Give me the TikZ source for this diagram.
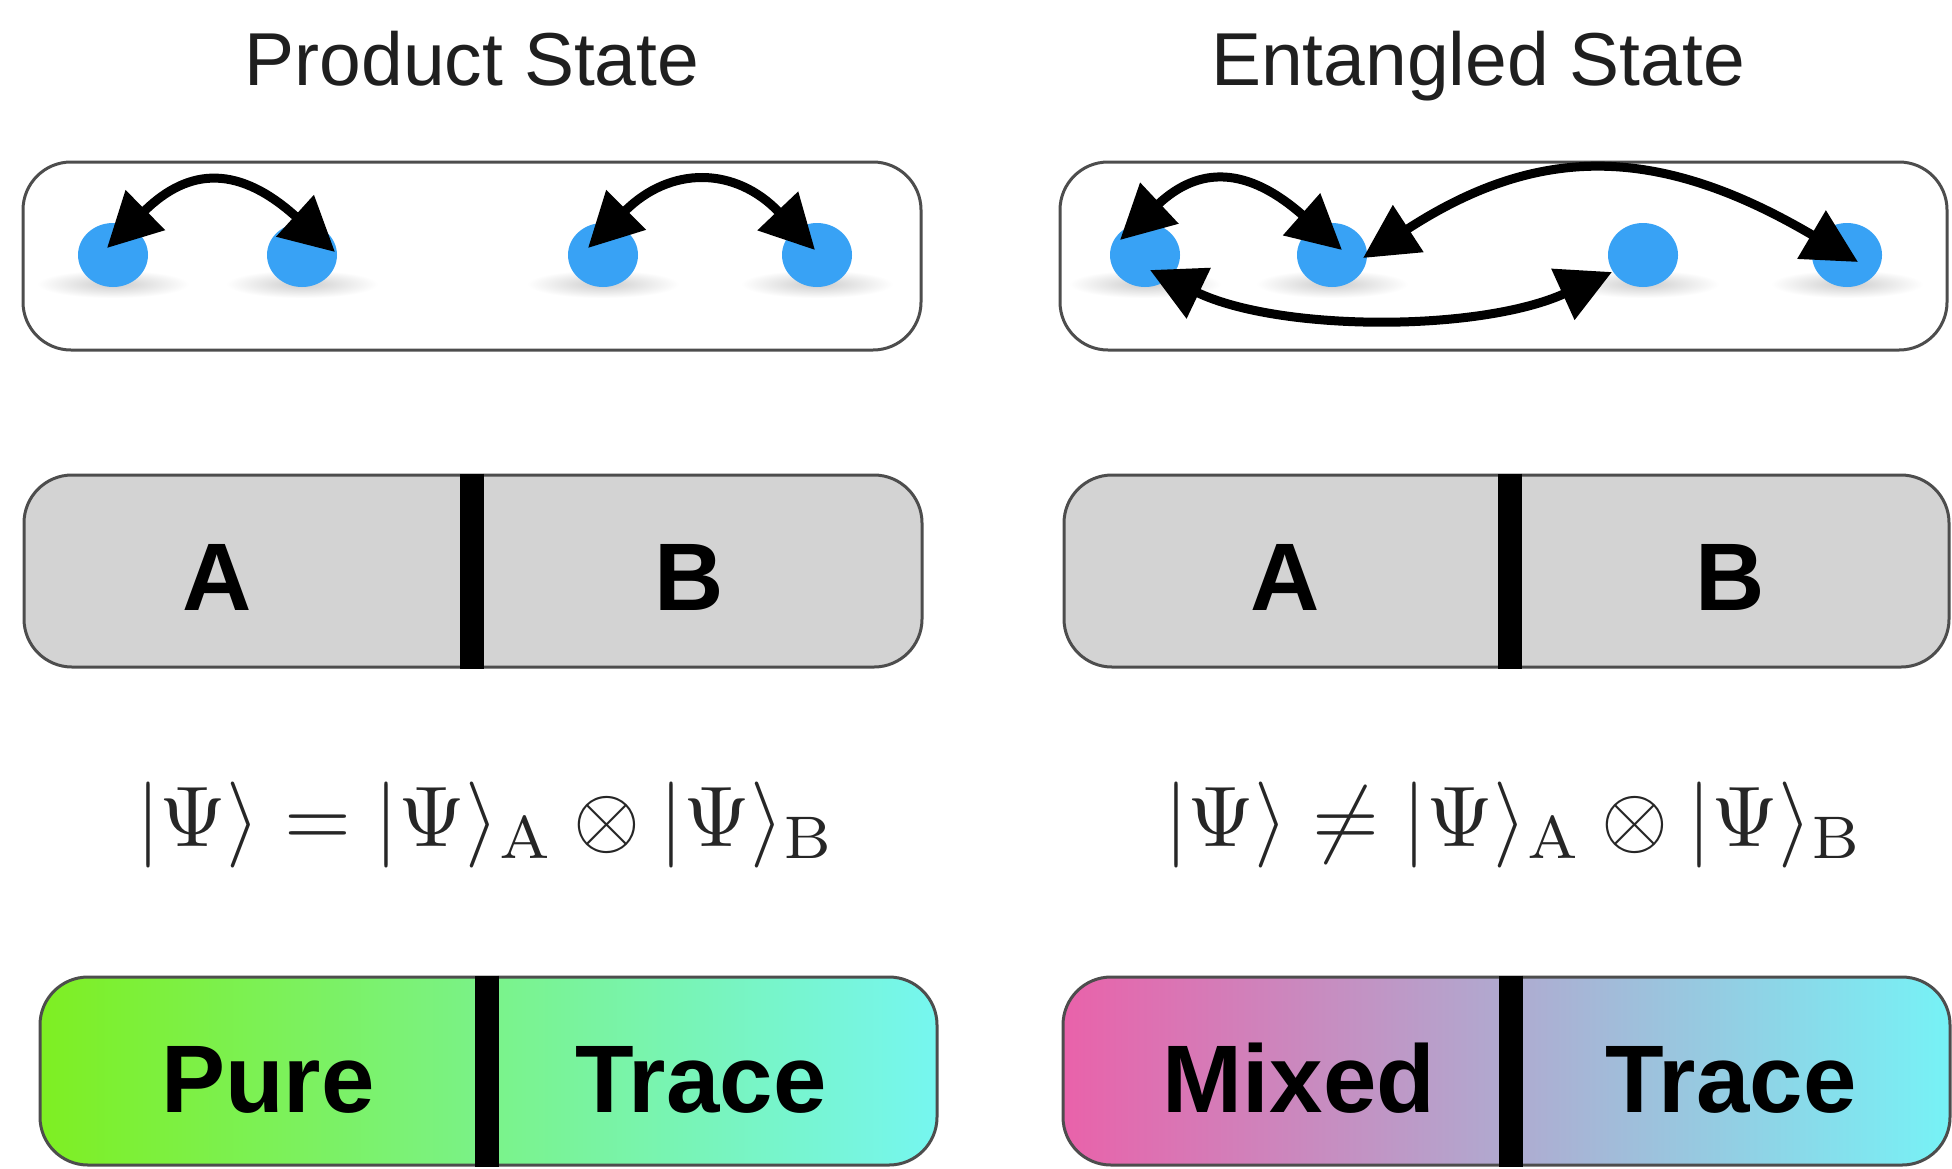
\documentclass[tikz,border=0pt]{standalone}
\usepackage[no-math]{fontspec}
\usepackage{graphicx}
\newfontfamily\sansf{Liberation Sans}
\usetikzlibrary{arrows.meta,calc,shapes.geometric}
\definecolor{dotblue}{HTML}{38A2F5}
\definecolor{boxline}{HTML}{4D4D4D}
\definecolor{boxgray}{HTML}{D3D3D3}
\definecolor{gA}{HTML}{7EEF22}
\definecolor{gB}{HTML}{76F6F0}
\definecolor{mA}{HTML}{E962AA}
\definecolor{mB}{HTML}{76F2F6}
\begin{document}
\begin{tikzpicture}[x=0.5pt,y=-0.5pt,
  box/.style={draw=boxline, line width=1.5pt, rounded corners=24pt, rectangle, inner sep=0pt},
  dot/.style={ellipse, fill=dotblue, minimum width=35pt, minimum height=32pt, inner sep=0pt},
  arr/.style={line width=4.5pt, {Triangle[length=27pt,width=27pt]}-{Triangle[length=27pt,width=27pt]}},
  divider/.style={line width=12pt},
  title/.style={font=\sansf\fontsize{37.5}{40}\selectfont, text=black!88, anchor=base},
  lbl/.style={font=\sansf\fontsize{48}{50}\selectfont\bfseries, anchor=base},
  formula/.style={text=black!85, anchor=base, inner sep=0pt},
]
\path[use as bounding box] (0,0) rectangle (1952,1168);

% titles
\node[title] (t1) at (472,85) {Product State};
\node[title] (t2) at (1478,85) {Entangled State};

% row 1 boxes
\node[box, fill=white, minimum width=449pt, minimum height=94pt] (p1) at (472,256) {};
\node[box, fill=white, minimum width=443.5pt, minimum height=94pt] (e1) at (1503.5,256) {};

% shadows
\foreach \x in {113,302,603,817,1145,1332,1643,1847}
  \shade[inner color=black!20, outer color=white] (\x,284) ellipse [x radius=38pt, y radius=7pt];

% dots
\node[dot] (d1) at (113,255) {};
\node[dot] (d2) at (302,255) {};
\node[dot] (d3) at (603,255) {};
\node[dot] (d4) at (817,255) {};
\node[dot] (f1) at (1145,255) {};
\node[dot] (f2) at (1332,255) {};
\node[dot] (f3) at (1643,255) {};
\node[dot] (f4) at (1847,255) {};

% arrows product
\draw[arr] ([shift={(-6,-7)}]d1.center) .. controls (190,166) and (240,166) .. ([shift={(33,-3)}]d2.center);
\draw[arr] ([shift={(-15,-7)}]d3.center) .. controls (670,166) and (735,166) .. ([shift={(-2,-5)}]d4.center);
% arrows entangled
\draw[arr] ([shift={(-25,-15)}]f1.center) .. controls (1199,166) and (1247,166) .. ([shift={(10,-5)}]f2.center);
\draw[arr] ([shift={(31,3)}]f2.center) .. controls (1538,144) and (1658,144) .. ([shift={(11,7)}]f4.center);
\draw[arr] ([shift={(5,15)}]f1.center) .. controls (1280,332) and (1480,332) .. ([shift={(-31,17)}]f3.center);

% row 2
\node[box, fill=boxgray, minimum width=449pt, minimum height=96pt] (pab) at (473,571) {};
\draw[divider] ([xshift=-0.5pt]pab.north) -- ([xshift=-0.5pt]pab.south);
\node[box, fill=boxgray, minimum width=442.5pt, minimum height=96pt] (eab) at (1506.5,571) {};
\draw[divider] ([xshift=1.75pt]eab.north) -- ([xshift=1.75pt]eab.south);
\node[lbl] (la1) at (217,610) {A};
\node[lbl] (lb1) at (689,610) {B};
\node[lbl] (la2) at (1285,610) {A};
\node[lbl] (lb2) at (1730,610) {B};

% row 3 formulas
\node[formula] (fm1) at (486,846) {\scalebox{4.3}{$|\Psi\rangle = |\Psi\rangle_{\mathrm{A}} \otimes |\Psi\rangle_{\mathrm{B}}$}};
\node[formula] (fm2) at (1514,846) {\scalebox{4.3}{$|\Psi\rangle \neq |\Psi\rangle_{\mathrm{A}} \otimes |\Psi\rangle_{\mathrm{B}}$}};

% row 4
\node[box, left color=gA, right color=gB, minimum width=448.5pt, minimum height=94pt] (ppt) at (488.5,1071) {};
\draw[divider] ([xshift=-0.75pt]ppt.north) -- ([xshift=-0.75pt]ppt.south);
\node[box, left color=mA, right color=mB, minimum width=443.5pt, minimum height=94pt] (emt) at (1506.5,1071) {};
\draw[divider] ([xshift=2.25pt]emt.north) -- ([xshift=2.25pt]emt.south);
\node[lbl] (lp) at (268,1112) {Pure};
\node[lbl] (lt1) at (701,1112) {Trace};
\node[lbl] (lm) at (1299,1112) {Mixed};
\node[lbl] (lt2) at (1731,1112) {Trace};
\end{tikzpicture}
\end{document}
